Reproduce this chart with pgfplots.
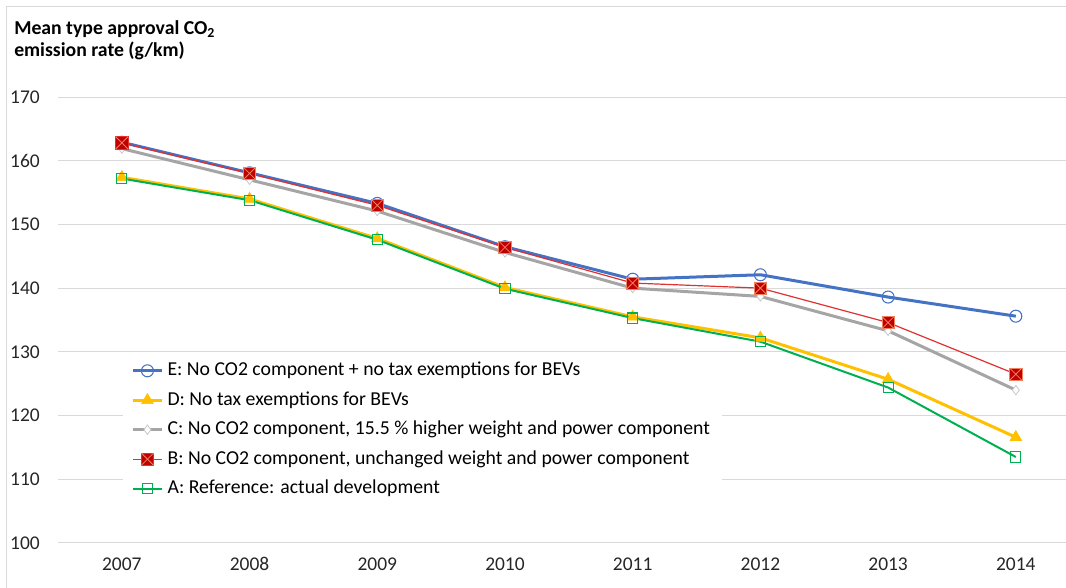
\documentclass[border=0pt]{standalone}
\usepackage{pgfplots}
\pgfplotsset{compat=1.18}
\usepackage{fontspec}
\setmainfont{Carlito}
\definecolor{cE}{HTML}{4472C4}
\definecolor{cD}{HTML}{FFC000}
\definecolor{cC}{HTML}{A5A5A5}
\definecolor{cCm}{HTML}{C8C8C8}
\definecolor{cB}{HTML}{C00000}
\definecolor{cBl}{HTML}{E03030}
\definecolor{bx}{HTML}{F08060}
\definecolor{cA}{HTML}{00B050}
\definecolor{gridc}{HTML}{D9D9D9}
\pgfdeclareplotmark{boxx}{%
  \pgfpathrectangle{\pgfqpoint{-\pgfplotmarksize}{-\pgfplotmarksize}}{\pgfqpoint{2\pgfplotmarksize}{2\pgfplotmarksize}}%
  \pgfusepathqfillstroke
  \pgfsetstrokecolor{bx}%
  \pgfpathmoveto{\pgfqpoint{-\pgfplotmarksize}{-\pgfplotmarksize}}\pgfpathlineto{\pgfqpoint{\pgfplotmarksize}{\pgfplotmarksize}}%
  \pgfpathmoveto{\pgfqpoint{-\pgfplotmarksize}{\pgfplotmarksize}}\pgfpathlineto{\pgfqpoint{\pgfplotmarksize}{-\pgfplotmarksize}}%
  \pgfusepathqstroke
}
\begin{document}
\begin{tikzpicture}
\path[use as bounding box] (-43.5pt,-33.75pt) rectangle (756pt,407.25pt);
\draw[gridc, line width=0.75pt] (-38.25pt,-40pt) -- (-38.25pt,402pt) -- (800pt,402pt);
\node[anchor=base west, inner sep=0pt, font=\fontsize{14.8}{17}\selectfont\bfseries] at (-33pt,381.5pt) {Mean type approval CO\textsubscript{2}};
\node[anchor=base west, inner sep=0pt, font=\fontsize{14.8}{17}\selectfont\bfseries] at (-33pt,365pt) {emission rate (g/km)};
\begin{axis}[
  scale only axis,
  width=756pt, height=334.5pt,
  xmin=-0.5, xmax=7.393,
  ymin=100, ymax=170,
  axis line style={draw=none},
  major tick style={draw=none},
  ytick={100,110,...,170},
  xtick={0,...,7},
  xticklabels={2007,2008,2009,2010,2011,2012,2013,2014},
  ymajorgrids=true, xmajorgrids=false,
  y grid style={draw=gridc, line width=0.75pt},
  tick label style={font=\fontsize{14.6}{17}\selectfont, text=black!85},
  /pgf/number format/assume math mode=true,
  yticklabel style={inner sep=0pt, anchor=east, xshift=-13.5pt},
  xticklabel style={inner sep=0pt, anchor=base, yshift=-21pt},
  legend cell align=left,
  legend style={at={(axis cs:0.009,129.8)}, anchor=north west, draw=none, fill=white,
    font=\fontsize{14.8}{17}\selectfont, inner xsep=6pt, inner ysep=2pt,
    nodes={text height=10.5pt, text depth=3.2pt, inner ysep=4.2pt, inner xsep=3pt}},
  legend image code/.code={\draw[mark repeat=2,mark phase=2] plot coordinates {(0pt,0pt)(11pt,0pt)(22pt,0pt)};},
]
\addplot[cE, line width=2.25pt, mark=o, mark size=4.5pt, mark options={line width=0.8pt, draw=cE, solid}]
 coordinates {(0,162.9)(1,158.1)(2,153.3)(3,146.5)(4,141.4)(5,142.1)(6,138.6)(7,135.6)};
\addlegendentry{E: No CO2 component + no tax exemptions for BEVs}
\addplot[cD, line width=2.25pt, mark=triangle*, mark size=5pt, mark options={fill=cD, draw=cD, line width=0.5pt}]
 coordinates {(0,157.4)(1,154.0)(2,147.8)(3,140.1)(4,135.5)(5,132.2)(6,125.7)(7,116.6)};
\addlegendentry{D: No tax exemptions for BEVs}
\addplot[cC, line width=2.25pt, mark=diamond*, mark size=3.5pt, mark options={fill=white, draw=cCm, line width=0.6pt}]
 coordinates {(0,161.9)(1,157.0)(2,152.1)(3,145.6)(4,140.0)(5,138.7)(6,133.3)(7,124.0)};
\addlegendentry{C: No CO2 component, 15.5 \% higher weight and power component}
\addplot[cBl, line width=0.9pt, mark=boxx, mark size=4.6pt, mark options={fill=cB, draw=cBl, line width=0.6pt}]
 coordinates {(0,162.8)(1,158.0)(2,153.0)(3,146.4)(4,140.8)(5,140.0)(6,134.6)(7,126.5)};
\addlegendentry{B: No CO2 component, unchanged weight and power component}
\addplot[cA, line width=1.5pt, mark=square, mark size=3.8pt, mark options={draw=cA, line width=0.8pt}]
 coordinates {(0,157.2)(1,153.8)(2,147.6)(3,139.9)(4,135.3)(5,131.6)(6,124.4)(7,113.5)};
\addlegendentry{A: Reference: actual development}
\end{axis}
\end{tikzpicture}
\end{document}
